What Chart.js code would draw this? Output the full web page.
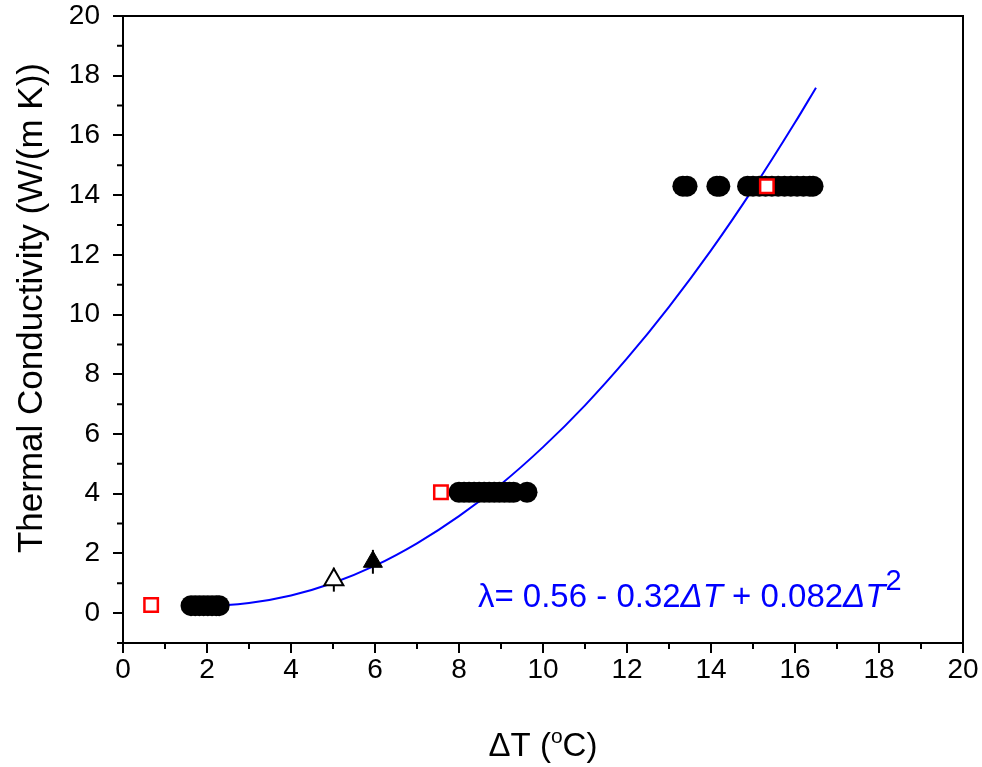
<!DOCTYPE html>
<html>
<head>
<meta charset="utf-8">
<script src="https://cdn.jsdelivr.net/npm/chart.js@4.4.0/dist/chart.umd.min.js"></script>
<style>
    html, body { margin: 0; padding: 0; background: #fff; }
    canvas { display: block; }
</style>
</head>
<body>
<canvas id="grafico" width="982" height="767"></canvas>
<script>
// medidas (circulos negros)
const circulosX = [1.62, 1.72, 1.82, 1.92, 2.02, 2.12, 2.22, 2.29,
    8.0, 8.12, 8.24, 8.36, 8.48, 8.6, 8.72, 8.84, 8.96, 9.08, 9.2, 9.3, 9.62,
    13.33, 13.43, 14.14, 14.21, 14.87, 15.0, 15.15, 15.3, 15.45, 15.6, 15.75, 15.9, 16.05, 16.2, 16.35, 16.43];
const circulosY = [0.25, 0.25, 0.25, 0.25, 0.25, 0.25, 0.25, 0.25,
    4.05, 4.05, 4.05, 4.05, 4.05, 4.05, 4.05, 4.05, 4.05, 4.05, 4.05, 4.05, 4.05,
    14.3, 14.3, 14.3, 14.3, 14.3, 14.3, 14.3, 14.3, 14.3, 14.3, 14.3, 14.3, 14.3, 14.3, 14.3, 14.3];

// cuadrados rojos
const cuadradosX = [0.67, 7.57, 15.33];
const cuadradosY = [0.27, 4.05, 14.3];

// triangulos (abierto y relleno) con su error
const trianguloAbiertoX = [5.02];
const trianguloAbiertoY = [1.12];
const trianguloLlenoX = [5.95];
const trianguloLlenoY = [1.72];
const errorTriangulo = [0.4, 0.4];

// curva de ajuste
const ajusteX = [1.6, 2, 3, 4, 5, 6, 7, 8, 9, 10, 11, 12, 13, 14, 15, 16, 16.5];
const ajusteY = [0.26, 0.25, 0.34, 0.59, 1.01, 1.59, 2.34, 3.25, 4.32, 5.56, 6.96, 8.53, 10.26, 12.15, 14.21, 16.43, 17.6];

// ticks
const ticksX = [0, 2, 4, 6, 8, 10, 12, 14, 16, 18, 20];
const ticksY = [0, 2, 4, 6, 8, 10, 12, 14, 16, 18, 20];
const menoresX = [1, 3, 5, 7, 9, 11, 13, 15, 17, 19];
const menoresY = [-1, 1, 3, 5, 7, 9, 11, 13, 15, 17, 19];

const fuente = '"Liberation Sans", Arial, sans-serif';

function puntos(xs, ys) {
    return xs.map((x, i) => ({ x: x, y: ys[i] }));
}

const decoracion = {
    id: 'decoracion',
    afterDraw(chart) {
        const { ctx, chartArea: a, scales: { x, y } } = chart;
        ctx.save();
        ctx.strokeStyle = '#000';
        ctx.lineWidth = 2;
        ctx.strokeRect(a.left, a.top, a.right - a.left, a.bottom - a.top);

        ctx.beginPath();
        menoresX.forEach(v => {
            const px = x.getPixelForValue(v);
            ctx.moveTo(px, a.bottom);
            ctx.lineTo(px, a.bottom + 6);
        });
        menoresY.forEach(v => {
            const py = y.getPixelForValue(v);
            ctx.moveTo(a.left - 6, py);
            ctx.lineTo(a.left, py);
        });
        ctx.stroke();

        // titulo eje y
        ctx.fillStyle = '#000';
        ctx.save();
        ctx.translate(42, 308);
        ctx.rotate(-Math.PI / 2);
        ctx.font = '35px ' + fuente;
        ctx.textAlign = 'center';
        ctx.textBaseline = 'alphabetic';
        ctx.fillText('Thermal Conductivity (W/(m K))', 0, 0);
        ctx.restore();

        // titulo eje x con superindice
        ctx.textAlign = 'left';
        ctx.textBaseline = 'alphabetic';
        ctx.font = '33px ' + fuente;
        const p1 = 'ΔT (', p3 = 'C)';
        const w1 = ctx.measureText(p1).width;
        const w3 = ctx.measureText(p3).width;
        ctx.font = '21px ' + fuente;
        const w2 = ctx.measureText('o').width;
        let cx = (a.left + a.right) / 2 - (w1 + w2 + w3) / 2;
        const base = 756;
        ctx.font = '33px ' + fuente;
        ctx.fillText(p1, cx, base);
        cx += w1;
        ctx.font = '21px ' + fuente;
        ctx.fillText('o', cx, base - 13);
        cx += w2;
        ctx.font = '33px ' + fuente;
        ctx.fillText(p3, cx, base);

        // ecuacion
        ctx.fillStyle = '#0000ff';
        let ex = x.getPixelForValue(8.45);
        const ey = y.getPixelForValue(0.2);
        const partes = [
            ['λ= 0.56 - 0.32', 'normal', 0],
            ['ΔT', 'italic', 0],
            [' + 0.082', 'normal', 0],
            ['ΔT', 'italic', 0],
            ['2', 'sup', 17]
        ];
        partes.forEach(([t, estilo, sube]) => {
            if (estilo === 'italic') ctx.font = 'italic 33px ' + fuente;
            else if (estilo === 'sup') ctx.font = '29px ' + fuente;
            else ctx.font = '33px ' + fuente;
            ctx.fillText(t, ex, ey - sube);
            ex += ctx.measureText(t).width;
        });
        ctx.restore();
    }
};

const ctx = document.getElementById('grafico').getContext('2d');

const chart = new Chart(ctx, {
    type: 'scatter',
    data: {
        datasets: [
            {
                label: 'cuadrados',
                data: puntos(cuadradosX, cuadradosY),
                pointStyle: 'rect',
                pointRadius: 9.5,
                backgroundColor: '#ffffff',
                borderColor: '#ff0000',
                borderWidth: 2.5
            },
            {
                label: 'triangulo abierto',
                data: puntos(trianguloAbiertoX, trianguloAbiertoY),
                pointStyle: 'triangle',
                pointRadius: 11,
                backgroundColor: '#ffffff',
                borderColor: '#000000',
                borderWidth: 2
            },
            {
                label: 'triangulo lleno',
                data: puntos(trianguloLlenoX, trianguloLlenoY),
                pointStyle: 'triangle',
                pointRadius: 11,
                backgroundColor: '#000000',
                borderColor: '#000000',
                borderWidth: 1
            },
            {
                label: 'error abierto',
                type: 'line',
                data: [
                    { x: trianguloAbiertoX[0], y: trianguloAbiertoY[0] - errorTriangulo[0] },
                    { x: trianguloAbiertoX[0], y: trianguloAbiertoY[0] + errorTriangulo[0] }
                ],
                borderColor: '#000000',
                borderWidth: 2,
                pointRadius: 0
            },
            {
                label: 'error lleno',
                type: 'line',
                data: [
                    { x: trianguloLlenoX[0], y: trianguloLlenoY[0] - errorTriangulo[1] },
                    { x: trianguloLlenoX[0], y: trianguloLlenoY[0] + errorTriangulo[1] }
                ],
                borderColor: '#000000',
                borderWidth: 2,
                pointRadius: 0
            },
            {
                label: 'circulos',
                data: puntos(circulosX, circulosY),
                pointStyle: 'circle',
                pointRadius: 10.5,
                backgroundColor: '#000000',
                borderColor: '#000000',
                borderWidth: 0
            },
            {
                label: 'ajuste',
                type: 'line',
                data: puntos(ajusteX, ajusteY),
                borderColor: '#0000ff',
                borderWidth: 2,
                pointRadius: 0,
                cubicInterpolationMode: 'monotone',
                fill: false
            }
        ]
    },
    options: {
        responsive: false,
        animation: false,
        layout: { padding: { top: 16, right: 19, left: 0, bottom: 0 } },
        plugins: {
            legend: { display: false },
            tooltip: { enabled: false }
        },
        scales: {
            x: {
                type: 'linear',
                min: 0,
                max: 20,
                afterBuildTicks: s => { s.ticks = ticksX.map(v => ({ value: v })); },
                afterFit: s => { s.height = 124; s.paddingLeft = 0; s.paddingRight = 0; },
                border: { display: true, color: '#000', width: 2 },
                grid: { drawOnChartArea: false, drawTicks: true, tickLength: 10, color: '#000', lineWidth: 2 },
                ticks: { color: '#000', font: { family: fuente, size: 28 }, padding: 0, maxRotation: 0 }
            },
            y: {
                type: 'linear',
                min: -1,
                max: 20,
                afterBuildTicks: s => { s.ticks = ticksY.map(v => ({ value: v })); },
                afterFit: s => { s.width = 123; s.paddingTop = 0; s.paddingBottom = 0; },
                border: { display: true, color: '#000', width: 2 },
                grid: { drawOnChartArea: false, drawTicks: true, tickLength: 10, color: '#000', lineWidth: 2 },
                ticks: { color: '#000', font: { family: fuente, size: 28 }, padding: 13 }
            }
        }
    },
    plugins: [decoracion]
});
</script>
</body>
</html>
